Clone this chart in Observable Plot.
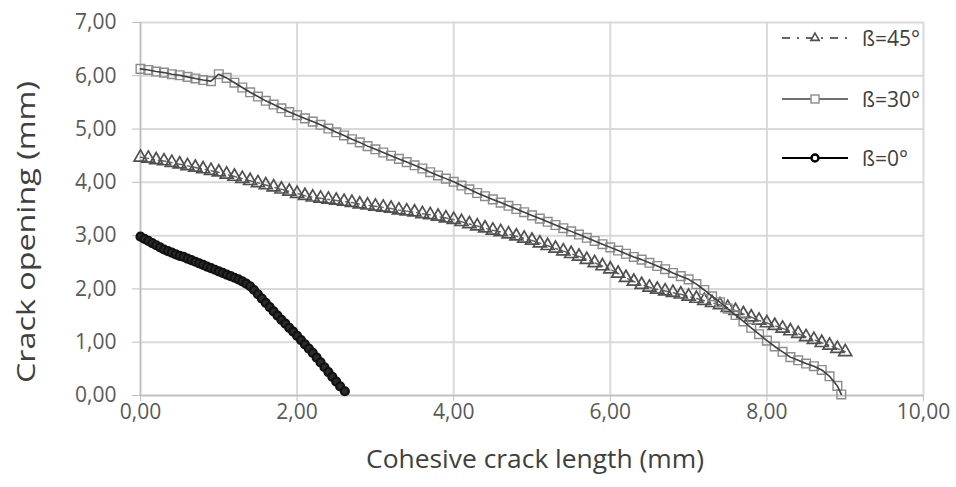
<!DOCTYPE html>
<html>
<head>
<meta charset="utf-8">
<script src="https://cdn.jsdelivr.net/npm/d3@7"></script>
<script src="https://cdn.jsdelivr.net/npm/@observablehq/plot@0.6"></script>
<style>
  html, body { margin: 0; padding: 0; background: #fff; }
  #wrap { position: relative; width: 956px; height: 487px; font-family: "Open Sans", sans-serif; }
  #legend { position: absolute; left: 780px; top: 0; width: 170px; }
  .item { position: absolute; left: 0; height: 30px; display: flex; align-items: center; }
  .item svg { display: block; }
  .item span { margin-left: 12px; font-size: 21px; color: #404040; }
</style>
</head>
<body>
<div id="wrap"><div id="legend"></div></div>
<script>
// ---- data ----
const xTicks = [0, 2, 4, 6, 8, 10];
const yTicks = [0, 1, 2, 3, 4, 5, 6, 7];
const seriesNames = ["ß=45°", "ß=30°", "ß=0°"];
const xTitle = "Cohesive crack length (mm)";
const yTitle = "Crack opening (mm)";

const len45 = [0.0,0.1,0.2,0.3,0.4,0.5,0.6,0.7,0.8,0.9,1.0,1.1,1.2,1.3,1.4,1.5,1.6,1.7,1.8,1.9,
  2.0,2.1,2.2,2.3,2.4,2.5,2.6,2.7,2.8,2.9,3.0,3.1,3.2,3.3,3.4,3.5,3.6,3.7,3.8,3.9,
  4.0,4.1,4.2,4.3,4.4,4.5,4.6,4.7,4.8,4.9,5.0,5.1,5.2,5.3,5.4,5.5,5.6,5.7,5.8,5.9,
  6.0,6.1,6.2,6.3,6.4,6.5,6.6,6.7,6.8,6.9,7.0,7.1,7.2,7.3,7.4,7.5,7.6,7.7,7.8,7.9,
  8.0,8.1,8.2,8.3,8.4,8.5,8.6,8.7,8.8,8.9,9.0];
const open45 = [4.47,4.45,4.42,4.40,4.37,4.34,4.31,4.28,4.25,4.22,4.19,4.15,4.11,4.07,4.03,3.99,3.95,3.91,3.87,3.83,
  3.79,3.75,3.72,3.70,3.68,3.66,3.64,3.62,3.59,3.57,3.55,3.53,3.51,3.48,3.46,3.44,3.41,3.39,3.36,3.33,
  3.30,3.26,3.22,3.18,3.14,3.10,3.07,3.03,2.99,2.95,2.91,2.86,2.81,2.76,2.71,2.66,2.61,2.55,2.49,2.43,
  2.37,2.29,2.21,2.14,2.08,2.03,1.99,1.96,1.93,1.90,1.86,1.82,1.78,1.74,1.70,1.65,1.59,1.53,1.47,1.41,
  1.36,1.31,1.26,1.21,1.16,1.10,1.05,0.99,0.94,0.88,0.82];

const len30 = [0.0,0.1,0.2,0.3,0.4,0.5,0.6,0.7,0.8,0.9,1.0,1.1,1.2,1.3,1.4,1.5,1.6,1.7,1.8,1.9,
  2.0,2.1,2.2,2.3,2.4,2.5,2.6,2.7,2.8,2.9,3.0,3.1,3.2,3.3,3.4,3.5,3.6,3.7,3.8,3.9,
  4.0,4.1,4.2,4.3,4.4,4.5,4.6,4.7,4.8,4.9,5.0,5.1,5.2,5.3,5.4,5.5,5.6,5.7,5.8,5.9,
  6.0,6.1,6.2,6.3,6.4,6.5,6.6,6.7,6.8,6.9,7.0,7.1,7.2,7.3,7.4,7.5,7.6,7.7,7.8,7.9,
  8.0,8.1,8.2,8.3,8.4,8.5,8.6,8.7,8.8,8.9,8.95];
const open30 = [6.13,6.11,6.08,6.06,6.03,6.01,5.98,5.95,5.92,5.90,6.03,5.96,5.87,5.78,5.69,5.61,5.53,5.46,5.39,5.32,
  5.26,5.20,5.14,5.08,5.01,4.94,4.88,4.81,4.75,4.68,4.62,4.56,4.50,4.44,4.38,4.32,4.26,4.19,4.13,4.07,
  4.01,3.94,3.87,3.80,3.74,3.68,3.62,3.56,3.50,3.44,3.38,3.32,3.26,3.20,3.14,3.08,3.02,2.96,2.90,2.84,
  2.78,2.72,2.66,2.60,2.55,2.49,2.43,2.37,2.30,2.24,2.18,2.09,1.98,1.86,1.75,1.63,1.51,1.39,1.27,1.15,
  1.03,0.92,0.82,0.72,0.66,0.60,0.55,0.48,0.36,0.18,0.02];

const len0 = [0.00,0.05,0.10,0.15,0.20,0.25,0.30,0.35,0.40,0.45,0.50,0.55,0.60,0.65,0.70,0.75,0.80,0.85,0.90,0.95,
  1.00,1.05,1.10,1.15,1.20,1.25,1.30,1.35,1.40,1.45,1.50,1.55,1.60,1.65,1.70,1.75,1.80,1.85,1.90,1.95,
  2.00,2.05,2.10,2.15,2.20,2.25,2.30,2.35,2.40,2.45,2.50,2.55,2.61];
const open0 = [2.98,2.94,2.90,2.86,2.82,2.78,2.74,2.71,2.68,2.65,2.62,2.60,2.57,2.54,2.51,2.48,2.45,2.42,2.39,2.36,
  2.33,2.30,2.27,2.24,2.21,2.18,2.14,2.10,2.05,1.98,1.90,1.82,1.74,1.66,1.58,1.50,1.42,1.35,1.27,1.20,
  1.12,1.04,0.96,0.88,0.80,0.71,0.62,0.53,0.44,0.35,0.26,0.17,0.08];

// ---- build tables ----
const d45 = len45.map((x, i) => ({x, y: open45[i]}));
const d30 = len30.map((x, i) => ({x, y: open30[i]}));
const d0 = len0.map((x, i) => ({x, y: open0[i]}));
const fmt = d => d.toFixed(2).replace(".", ",");

const chart = Plot.plot({
  width: 956,
  height: 487,
  marginLeft: 140,
  marginRight: 33,
  marginTop: 22,
  marginBottom: 92,
  style: {fontFamily: '"Open Sans", sans-serif', fontSize: "21px", color: "#595959", background: "#fff", overflow: "visible"},
  x: {domain: [0, 10]},
  y: {domain: [0, 7]},
  marks: [
    Plot.gridX(xTicks, {stroke: "#d9d9d9", strokeOpacity: 1, strokeWidth: 2}),
    Plot.gridY(yTicks, {stroke: "#d9d9d9", strokeOpacity: 1, strokeWidth: 2}),
    Plot.axisX({ticks: xTicks, tickFormat: fmt, tickSize: 6, tickPadding: 3, stroke: "#bfbfbf", label: null}),
    Plot.axisY({ticks: yTicks, tickFormat: fmt, tickSize: 8, tickPadding: 16, stroke: "#bfbfbf", label: null}),
    Plot.ruleY([0], {stroke: "#bfbfbf", strokeWidth: 1.5}),
    Plot.ruleX([0], {stroke: "#bfbfbf", strokeWidth: 1.5}),
    // ß=45°
    Plot.line(d45, {x: "x", y: "y", stroke: "#666", strokeWidth: 1.5, strokeDasharray: "8,4,2,4"}),
    Plot.dot(d45, {x: "x", y: "y", symbol: "triangle", r: 4.8, stroke: "#505050", strokeWidth: 1.7, fill: "none"}),
    // ß=30°
    Plot.dot(d30, {x: "x", y: "y", symbol: "square", r: 4.9, stroke: "#8c8c8c", strokeWidth: 1.4, fill: "none"}),
    Plot.line(d30, {x: "x", y: "y", stroke: "#404040", strokeWidth: 1.6}),
    // ß=0°
    Plot.line(d0, {x: "x", y: "y", stroke: "#000", strokeWidth: 3}),
    Plot.dot(d0, {x: "x", y: "y", symbol: "circle", r: 4, stroke: "#111", strokeWidth: 2.2, fill: "#2a2a2a"}),
    // titles
    Plot.text([xTitle], {frameAnchor: "bottom", text: d => d, dy: 72, fontSize: 25, fill: "#404040", dx: 3}),
    Plot.text([yTitle], {frameAnchor: "left", text: d => d, fontSize: 25, fill: "#404040"})
  ]
});

document.getElementById("wrap").prepend(chart);

// stretch titles to match the reference proportions
d3.select(chart).selectAll("text").each(function () {
  const t = this.textContent;
  if (t === xTitle) {
    this.setAttribute("textLength", 338);
    this.setAttribute("lengthAdjust", "spacingAndGlyphs");
  }
  if (t === yTitle) {
    const g = this.parentNode;
    g.removeAttribute("transform");
    this.removeAttribute("x");
    this.removeAttribute("y");
    this.setAttribute("text-anchor", "start");
    this.setAttribute("dy", "0.32em");
    this.setAttribute("transform", "translate(27,383) rotate(-90)");
    this.setAttribute("textLength", 302);
    this.setAttribute("lengthAdjust", "spacingAndGlyphs");
  }
});

// ---- legend (HTML) ----
const legendTops = [23, 84, 143];
const legend = d3.select("#legend");
seriesNames.forEach((name, i) => {
  const item = legend.append("div").attr("class", "item").style("top", legendTops[i] + "px");
  const svg = item.append("svg").attr("width", 70).attr("height", 30);
  if (i === 0) {
    svg.append("line").attr("x1", 2).attr("x2", 68).attr("y1", 15).attr("y2", 15)
      .attr("stroke", "#666").attr("stroke-width", 2).attr("stroke-dasharray", "8,7,2,7");
    svg.append("path").attr("d", d3.symbol(d3.symbolTriangle2, 50)()).attr("transform", "translate(35,15)")
      .attr("fill", "#fff").attr("stroke", "#505050").attr("stroke-width", 1.6);
  } else if (i === 1) {
    svg.append("line").attr("x1", 2).attr("x2", 68).attr("y1", 15).attr("y2", 15).attr("stroke", "#404040").attr("stroke-width", 1.6);
    svg.append("rect").attr("x", 31).attr("y", 11).attr("width", 8).attr("height", 8)
      .attr("fill", "#fff").attr("stroke", "#8c8c8c").attr("stroke-width", 1.4);
  } else {
    svg.append("line").attr("x1", 2).attr("x2", 68).attr("y1", 15).attr("y2", 15).attr("stroke", "#000").attr("stroke-width", 2);
    svg.append("circle").attr("cx", 35).attr("cy", 15).attr("r", 3.5)
      .attr("fill", "#fff").attr("stroke", "#000").attr("stroke-width", 2.4);
  }
  item.append("span").text(name);
});
</script>
</body>
</html>
